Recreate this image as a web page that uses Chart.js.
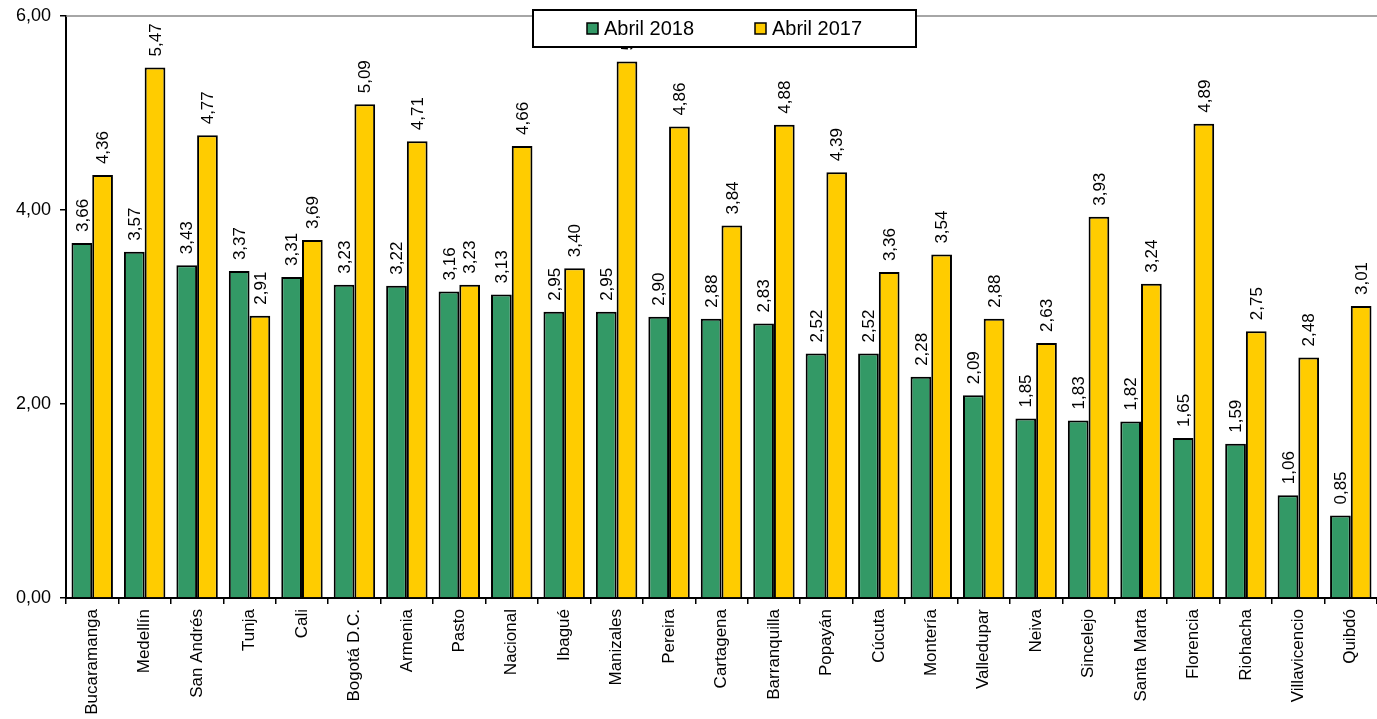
<!DOCTYPE html>
<html>
<head>
<meta charset="utf-8">
<script src="https://cdn.jsdelivr.net/npm/chart.js@4"></script>
<style>
  html, body { margin: 0; padding: 0; background: #fff; }
  #wrap { width: 1377px; height: 719px; position: relative; }
</style>
</head>
<body>
<div id="wrap"><canvas id="rateChart"></canvas></div>
<script>
const cities = ['Bucaramanga', 'Medellín', 'San Andrés', 'Tunja', 'Cali', 'Bogotá D.C.', 'Armenia', 'Pasto',
  'Nacional', 'Ibagué', 'Manizales', 'Pereira', 'Cartagena', 'Barranquilla', 'Popayán', 'Cúcuta', 'Montería',
  'Valledupar', 'Neiva', 'Sincelejo', 'Santa Marta', 'Florencia', 'Riohacha', 'Villavicencio', 'Quibdó'];
const abril2018 = [3.66, 3.57, 3.43, 3.37, 3.31, 3.23, 3.22, 3.16, 3.13, 2.95, 2.95, 2.90, 2.88, 2.83, 2.52,
  2.52, 2.28, 2.09, 1.85, 1.83, 1.82, 1.65, 1.59, 1.06, 0.85];
const abril2017 = [4.36, 5.47, 4.77, 2.91, 3.69, 5.09, 4.71, 3.23, 4.66, 3.40, 5.53, 4.86, 3.84, 4.88, 4.39,
  3.36, 3.54, 2.88, 2.63, 3.93, 3.24, 4.89, 2.75, 2.48, 3.01];
const yTicks = [0, 2, 4, 6];

const FONT = '"Liberation Sans", Arial, sans-serif';
const fmt = v => v.toFixed(2).replace('.', ',');

// value labels, rotated like the original
const valueLabels = {
  id: 'valueLabels',
  afterDatasetsDraw(chart) {
    const ctx = chart.ctx;
    ctx.save();
    ctx.fillStyle = '#000';
    ctx.font = '17px ' + FONT;
    ctx.textAlign = 'left';
    ctx.textBaseline = 'middle';
    chart.data.datasets.forEach((ds, i) => {
      chart.getDatasetMeta(i).data.forEach((bar, j) => {
        ctx.save();
        ctx.translate(bar.x + 1, bar.y - 11);
        ctx.rotate(-Math.PI / 2);
        ctx.fillText(fmt(ds.data[j]), 0, 0);
        ctx.restore();
      });
    });
    // gray top line of the plot
    const a = chart.chartArea;
    ctx.strokeStyle = '#888';
    ctx.lineWidth = 1.5;
    ctx.beginPath();
    ctx.moveTo(a.left, a.top);
    ctx.lineTo(a.right, a.top);
    ctx.stroke();
    ctx.restore();
  }
};

// legend box drawn over the plot
const boxLegend = {
  id: 'boxLegend',
  afterDraw(chart) {
    const ctx = chart.ctx;
    ctx.save();
    ctx.fillStyle = '#fff';
    ctx.fillRect(533, 10, 383, 37);
    ctx.strokeStyle = '#000';
    ctx.lineWidth = 2;
    ctx.strokeRect(533, 10, 383, 37);
    ctx.font = '20px ' + FONT;
    ctx.textBaseline = 'middle';
    ctx.textAlign = 'left';
    const items = [[587, '#339966', 'Abril 2018'], [755, '#FFCC00', 'Abril 2017']];
    items.forEach(([x, c, t]) => {
      ctx.fillStyle = c;
      ctx.fillRect(x, 23, 11, 11);
      ctx.lineWidth = 1.5;
      ctx.strokeRect(x, 23, 11, 11);
      ctx.fillStyle = '#000';
      ctx.fillText(t, x + 17, 29);
    });
    ctx.restore();
  }
};

new Chart(document.getElementById('rateChart'), {
  type: 'bar',
  data: {
    labels: cities,
    datasets: [{
      label: 'Abril 2018',
      data: abril2018,
      backgroundColor: '#339966',
      borderColor: '#000',
      borderWidth: 2
    }, {
      label: 'Abril 2017',
      data: abril2017,
      backgroundColor: '#FFCC00',
      borderColor: '#000',
      borderWidth: 2
    }]
  },
  options: {
    responsive: true,
    maintainAspectRatio: false,
    animation: false,
    layout: { padding: { top: 16, right: 0, left: 0, bottom: 0 } },
    plugins: {
      legend: { display: false },
      tooltip: { enabled: false }
    },
    datasets: { bar: { categoryPercentage: 0.79, barPercentage: 1 } },
    scales: {
      x: {
        afterFit: s => { s.height = 121; s.paddingLeft = 0; s.paddingRight = 0; },
        grid: { offset: true, drawOnChartArea: false, color: '#000', tickLength: 6, lineWidth: 1.5 },
        border: { color: '#000', width: 2 },
        ticks: {
          color: '#000',
          font: { family: FONT, size: 17 },
          minRotation: 90, maxRotation: 90, autoSkip: false, padding: 5
        }
      },
      y: {
        min: 0, max: 6,
        afterFit: s => { s.width = 66; s.paddingTop = 0; s.paddingBottom = 0; },
        afterBuildTicks: s => { s.ticks = yTicks.map(v => ({ value: v })); },
        grid: { drawOnChartArea: false, color: '#000', tickLength: 6, lineWidth: 1.5 },
        border: { color: '#000', width: 2 },
        ticks: {
          color: '#000',
          font: { family: FONT, size: 18 },
          padding: 9,
          callback: v => fmt(v)
        }
      }
    }
  },
  plugins: [valueLabels, boxLegend]
});
</script>
</body>
</html>
